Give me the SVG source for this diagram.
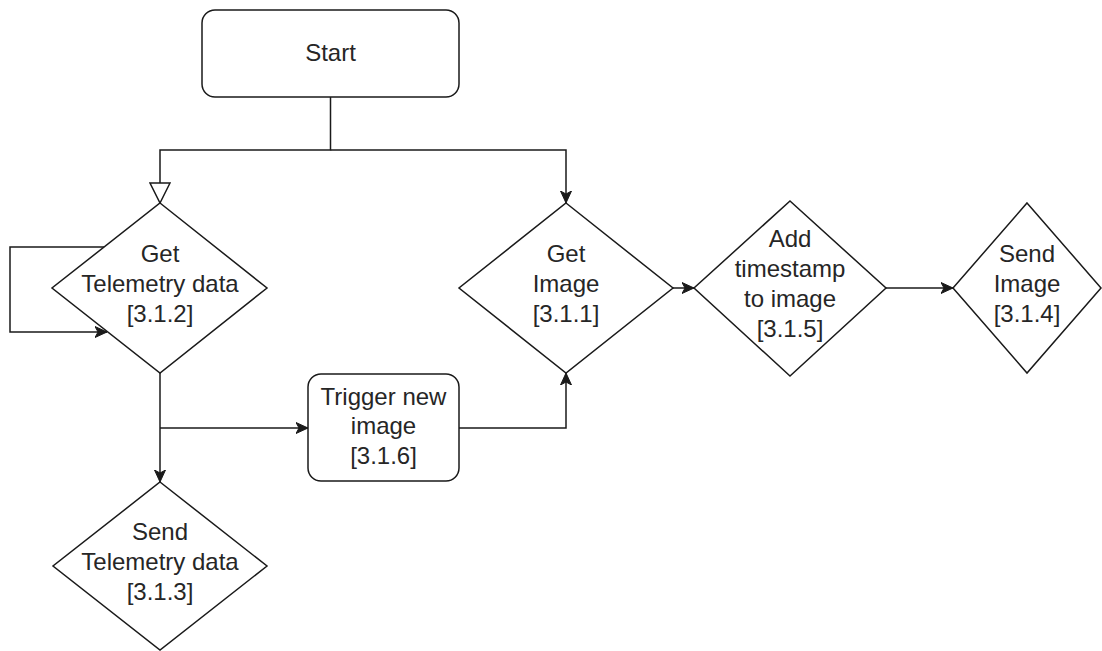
<svg xmlns="http://www.w3.org/2000/svg" width="1102" height="651" viewBox="0 0 1102 651">
  <style>
    .shape { fill: #ffffff; stroke: #1a1a1a; stroke-width: 1.5; }
    .edge { fill: none; stroke: #1a1a1a; stroke-width: 1.5; }
    .lbl { font-family: "Liberation Sans", Arial, sans-serif; font-size: 24px; fill: #262626; text-anchor: middle; }
  </style>
  <defs>
    <marker id="arrow" viewBox="0 0 12 12" refX="12" refY="6" markerWidth="12" markerHeight="12" markerUnits="userSpaceOnUse" orient="auto">
      <path d="M0,0.5 L12,6 L0,11.5 L3,6 Z" fill="#1a1a1a" stroke="#1a1a1a" stroke-width="1"/>
    </marker>
    <marker id="openblock" viewBox="0 0 22 22" refX="21" refY="11" markerWidth="22" markerHeight="22" markerUnits="userSpaceOnUse" orient="auto">
      <path d="M1,1 L21,11 L1,21 Z" fill="#ffffff" stroke="#1a1a1a" stroke-width="1.5"/>
    </marker>
  </defs>
  <rect width="1102" height="651" fill="#ffffff"/>

  <g id="connectors">
    <path class="edge" d="M330.5 97 V150 H160 V203" marker-end="url(#openblock)"/>
    <path class="edge" d="M330.5 150 H566 V203" marker-end="url(#arrow)"/>
    <path class="edge" d="M105 247 H10 V332 H107" marker-end="url(#arrow)"/>
    <path class="edge" d="M160 373 V482" marker-end="url(#arrow)"/>
    <path class="edge" d="M160 428 H308" marker-end="url(#arrow)"/>
    <path class="edge" d="M459 428 H566 V373" marker-end="url(#arrow)"/>
    <path class="edge" d="M673 288 H694" marker-end="url(#arrow)"/>
    <path class="edge" d="M886 288 H953" marker-end="url(#arrow)"/>
  </g>

  <g id="start">
    <rect class="shape" x="202" y="10" width="257" height="87" rx="13" ry="13"/>
    <text class="lbl" x="330.5" y="61">Start</text>
  </g>

  <g id="get-telemetry">
    <polygon class="shape" points="160,203 267,288 160,373 52,288"/>
    <text class="lbl" x="160" y="262">Get</text>
    <text class="lbl" x="160" y="292">Telemetry data</text>
    <text class="lbl" x="160" y="322">[3.1.2]</text>
  </g>

  <g id="get-image">
    <polygon class="shape" points="566,203 673,288 566,373 459,288"/>
    <text class="lbl" x="566" y="262">Get</text>
    <text class="lbl" x="566" y="292">Image</text>
    <text class="lbl" x="566" y="322">[3.1.1]</text>
  </g>

  <g id="add-timestamp">
    <polygon class="shape" points="790,201 886,288 790,376 694,288"/>
    <text class="lbl" x="790" y="247">Add</text>
    <text class="lbl" x="790" y="277">timestamp</text>
    <text class="lbl" x="790" y="307">to image</text>
    <text class="lbl" x="790" y="337">[3.1.5]</text>
  </g>

  <g id="send-image">
    <polygon class="shape" points="1027,203 1101,288 1027,373 953,288"/>
    <text class="lbl" x="1027" y="262">Send</text>
    <text class="lbl" x="1027" y="292">Image</text>
    <text class="lbl" x="1027" y="322">[3.1.4]</text>
  </g>

  <g id="trigger-new-image">
    <rect class="shape" x="308" y="374" width="151" height="107" rx="13" ry="13"/>
    <text class="lbl" x="383.5" y="405">Trigger new</text>
    <text class="lbl" x="383.5" y="434">image</text>
    <text class="lbl" x="383.5" y="464">[3.1.6]</text>
  </g>

  <g id="send-telemetry">
    <polygon class="shape" points="160,482 267,566 160,650 53,566"/>
    <text class="lbl" x="160" y="540">Send</text>
    <text class="lbl" x="160" y="570">Telemetry data</text>
    <text class="lbl" x="160" y="600">[3.1.3]</text>
  </g>
</svg>
